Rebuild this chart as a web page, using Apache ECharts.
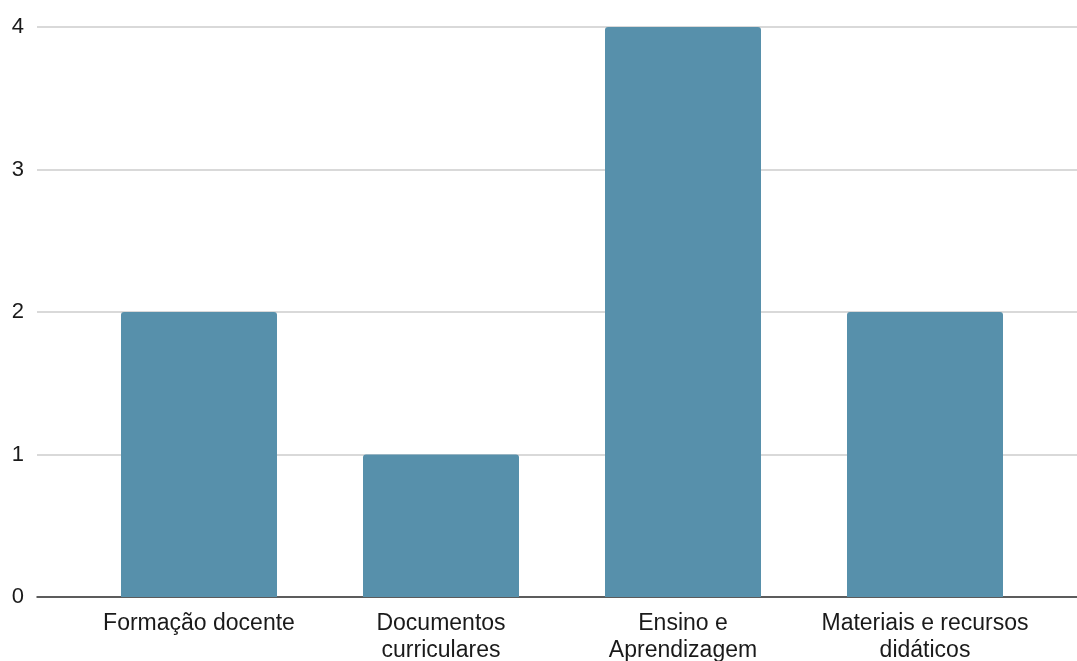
<!DOCTYPE html>
<html>
<head>
<meta charset="utf-8">
<script src="https://cdn.jsdelivr.net/npm/echarts@6/dist/echarts.min.js"></script>
<style>
  html, body { margin: 0; padding: 0; background: #fff; }
  #chart { width: 1077px; height: 661px; }
</style>
</head>
<body>
<div id="chart"></div>
<script>
// Number of works per theme
const categories = ['Formação docente', 'Documentos\ncurriculares', 'Ensino e\nAprendizagem', 'Materiais e recursos\ndidáticos'];
const counts = [2, 1, 4, 2];
const yTicks = [0, 1, 2, 3, 4];

const FONT = 'Liberation Sans, Arial, sans-serif';
const chart = echarts.init(document.getElementById('chart'));

chart.setOption({
  animation: false,
  backgroundColor: '#ffffff',
  grid: [
    // bars and category labels
    { left: 78, right: 31, top: 27, bottom: 64, outerBoundsMode: 'none', containLabel: false },
    // full-width frame: value labels, gridlines and baseline
    { left: 37, right: 0, top: 27, bottom: 64, outerBoundsMode: 'none', containLabel: false }
  ],
  xAxis: [
    {
      type: 'category', gridIndex: 0, data: categories,
      axisLine: { show: false }, axisTick: { show: false },
      axisLabel: { color: '#1a1a1a', fontFamily: FONT, fontSize: 23, lineHeight: 27, margin: 13, interval: 0 }
    },
    {
      type: 'value', gridIndex: 1, min: 0, max: 1,
      axisLine: { show: true, lineStyle: { color: '#333', width: 1.5 } },
      axisTick: { show: false }, axisLabel: { show: false }, splitLine: { show: false }
    }
  ],
  yAxis: [
    { type: 'value', gridIndex: 0, min: 0, max: 4, interval: 1, show: false },
    {
      type: 'value', gridIndex: 1, min: yTicks[0], max: yTicks[yTicks.length - 1], interval: 1,
      axisLine: { show: false }, axisTick: { show: false },
      axisLabel: { color: '#1a1a1a', fontFamily: FONT, fontSize: 22, margin: 13 },
      splitLine: { lineStyle: { color: '#cccccc', width: 1.5 } }
    }
  ],
  series: [{
    type: 'bar', xAxisIndex: 0, yAxisIndex: 0,
    data: counts, barWidth: 156, z: 3,
    itemStyle: { color: '#5790ab', borderRadius: [3, 3, 0, 0] }
  }]
});
</script>
</body>
</html>
